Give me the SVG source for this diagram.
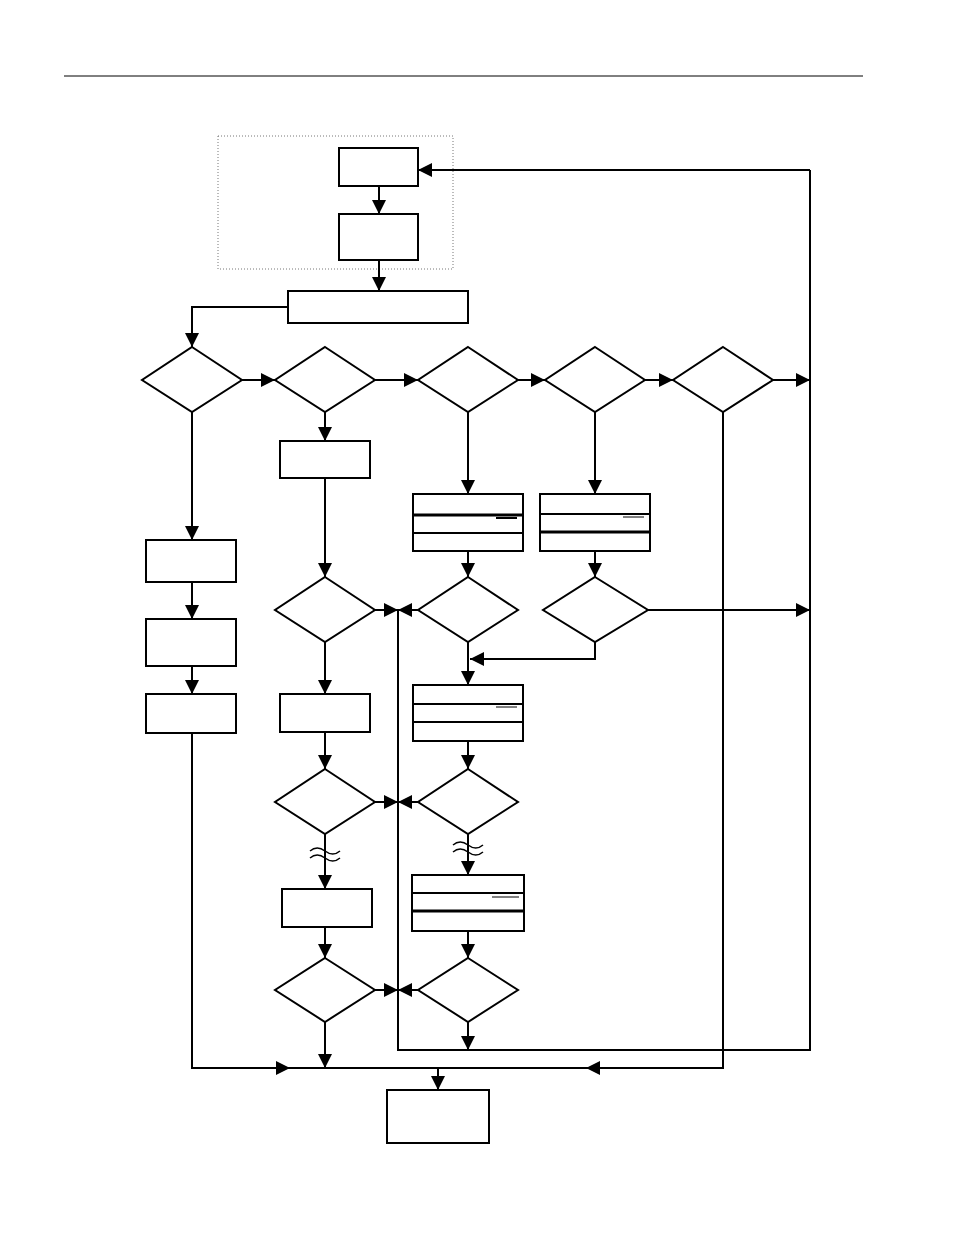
<svg xmlns="http://www.w3.org/2000/svg" width="954" height="1235" viewBox="0 0 954 1235">
<defs>
<marker id="ah" viewBox="0 0 10 10" refX="10" refY="5" markerWidth="14" markerHeight="14" markerUnits="userSpaceOnUse" orient="auto"><path d="M0,0 L10,5 L0,10 z" fill="#000"/></marker>
<style>
.n{fill:#fff;stroke:#000;stroke-width:2}
.c{fill:none;stroke:#000;stroke-width:2}
.a{fill:none;stroke:#000;stroke-width:2;marker-end:url(#ah)}
.t{fill:none;stroke:#000;stroke-width:1.5}
</style>
</defs>
<rect width="954" height="1235" fill="#fff"/>
<line x1="64" y1="76" x2="863" y2="76" stroke="#000" stroke-width="1"/>
<rect x="218" y="136" width="235" height="133" fill="none" stroke="#777" stroke-width="1" stroke-dasharray="1,2"/>
<g id="connectors">
<path class="a" d="M379,186V214"/><path class="a" d="M379,260V291"/>
<path class="a" d="M288,307H192V347"/>
<path class="a" d="M242,380H275"/><path class="a" d="M375,380H418"/><path class="a" d="M518,380H545"/><path class="a" d="M645,380H673"/><path class="a" d="M773,380H810"/>
<path class="c" d="M810,170V1050H398V610"/><path class="a" d="M810,170H418"/>
<path class="a" d="M192,412V540"/><path class="a" d="M192,582V619"/><path class="a" d="M192,666V694"/>
<path class="c" d="M192,733V1068H723V412"/>
<path class="a" d="M192,1068H290"/><path class="a" d="M723,1068H586"/>
<path class="a" d="M438,1068V1090"/>
<path class="a" d="M325,412V441"/><path class="a" d="M325,478V577"/>
<path class="a" d="M375,610H398"/><path class="a" d="M418,610H398"/>
<path class="a" d="M468,412V494"/><path class="a" d="M595,412V494"/>
<path class="a" d="M468,551V577"/><path class="a" d="M595,551V577"/>
<path class="a" d="M648,610H810"/>
<path class="a" d="M595,642V659H470"/>
<path class="a" d="M468,642V685"/><path class="a" d="M468,741V769"/>
<path class="a" d="M418,802H398"/><path class="a" d="M375,802H398"/>
<path class="a" d="M325,642V694"/><path class="a" d="M325,732V769"/>
<path class="a" d="M325,834V889"/><path class="a" d="M325,927V958"/>
<path class="a" d="M375,990H398"/><path class="a" d="M418,990H398"/>
<path class="a" d="M325,1022V1068"/>
<path class="a" d="M468,834V875"/><path class="a" d="M468,931V958"/>
<path class="a" d="M468,1022V1050"/>
<path class="t" d="M310,851q7,-6 15,0t15,0M310,858q7,-6 15,0t15,0"/>
<path class="t" d="M453,845q7,-6 15,0t15,0M453,852q7,-6 15,0t15,0"/>
</g>
<g id="n1"><rect class="n" x="339" y="148" width="79" height="38"/></g>
<g id="n2"><rect class="n" x="339" y="214" width="79" height="46"/></g>
<g id="n3"><rect class="n" x="288" y="291" width="180" height="32"/></g>
<g id="d1"><polygon class="n" points="192,347 242,380 192,412 142,380"/></g>
<g id="d2"><polygon class="n" points="325,347 375,380 325,412 275,380"/></g>
<g id="d3"><polygon class="n" points="468,347 518,380 468,412 418,380"/></g>
<g id="d4"><polygon class="n" points="595,347 645,380 595,412 545,380"/></g>
<g id="d5"><polygon class="n" points="723,347 773,380 723,412 673,380"/></g>
<g id="b1"><rect class="n" x="146" y="540" width="90" height="42"/></g>
<g id="b2"><rect class="n" x="146" y="619" width="90" height="47"/></g>
<g id="b3"><rect class="n" x="146" y="694" width="90" height="39"/></g>
<g id="b4"><rect class="n" x="280" y="441" width="90" height="37"/></g>
<g id="b5"><rect class="n" x="413" y="494" width="110" height="57"/><line x1="413" y1="515" x2="523" y2="515" stroke="#000" stroke-width="3"/><line x1="413" y1="533" x2="523" y2="533" stroke="#000" stroke-width="2"/><line x1="496" y1="518" x2="517" y2="518" stroke="#000" stroke-width="2"/></g>
<g id="b6"><rect class="n" x="540" y="494" width="110" height="57"/><line x1="540" y1="514" x2="650" y2="514" stroke="#000" stroke-width="2"/><line x1="540" y1="532" x2="650" y2="532" stroke="#000" stroke-width="3"/><line x1="623" y1="517" x2="644" y2="517" stroke="#000" stroke-width="1"/></g>
<g id="d6"><polygon class="n" points="325,577 375,610 325,642 275,610"/></g>
<g id="d7"><polygon class="n" points="468,577 518,610 468,642 418,610"/></g>
<g id="d8"><polygon class="n" points="595,577 648,610 595,642 543,610"/></g>
<g id="b7"><rect class="n" x="413" y="685" width="110" height="56"/><line x1="413" y1="704" x2="523" y2="704" stroke="#000" stroke-width="2"/><line x1="413" y1="722" x2="523" y2="722" stroke="#000" stroke-width="2"/><line x1="496" y1="707" x2="517" y2="707" stroke="#000" stroke-width="1"/></g>
<g id="b8"><rect class="n" x="280" y="694" width="90" height="38"/></g>
<g id="d9"><polygon class="n" points="325,769 375,802 325,834 275,802"/></g>
<g id="d10"><polygon class="n" points="468,769 518,802 468,834 418,802"/></g>
<g id="b9"><rect class="n" x="282" y="889" width="90" height="38"/></g>
<g id="b10"><rect class="n" x="412" y="875" width="112" height="56"/><line x1="412" y1="893" x2="524" y2="893" stroke="#000" stroke-width="2"/><line x1="412" y1="911" x2="524" y2="911" stroke="#000" stroke-width="3"/><line x1="492" y1="897" x2="519" y2="897" stroke="#000" stroke-width="1"/></g>
<g id="d11"><polygon class="n" points="325,958 375,990 325,1022 275,990"/></g>
<g id="d12"><polygon class="n" points="468,958 518,990 468,1022 418,990"/></g>
<g id="end"><rect class="n" x="387" y="1090" width="102" height="53"/></g>
</svg>
